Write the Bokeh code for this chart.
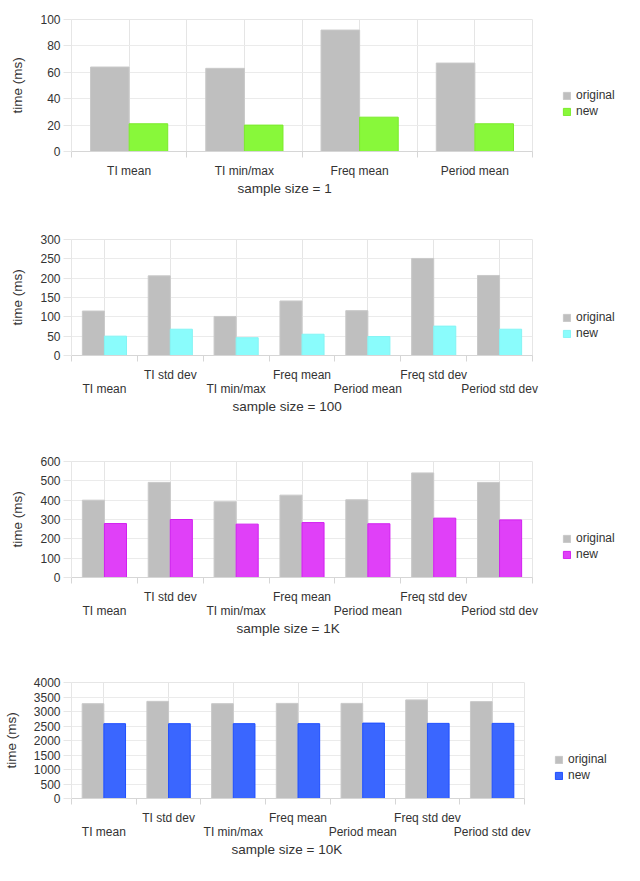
from bokeh.plotting import figure
from bokeh.layouts import column
from bokeh.models import (ColumnDataSource, Range1d, LinearAxis, FixedTicker,
                          SingleIntervalTicker, Legend, LegendItem, Title)
from bokeh.transform import dodge
from bokeh.embed import file_html
from bokeh.resources import INLINE

# ---------------- data ----------------
categories_small = ["TI mean", "TI min/max", "Freq mean", "Period mean"]
categories_full = ["TI mean", "TI std dev", "TI min/max", "Freq mean",
                   "Period mean", "Freq std dev", "Period std dev"]

original_1 = [64, 63, 92, 67]
new_1 = [21, 20, 26, 21]

original_100 = [115, 206, 101, 141, 116, 251, 207]
new_100 = [50, 68, 46, 55, 49, 76, 68]

original_1k = [400, 492, 392, 426, 402, 541, 492]
new_1k = [279, 300, 276, 284, 278, 307, 298]

original_10k = [3270, 3350, 3270, 3280, 3280, 3400, 3340]
new_10k = [2580, 2580, 2580, 2580, 2600, 2590, 2590]

titles = ["sample size = 1", "sample size = 100", "sample size = 1K", "sample size = 10K"]
y_max = [100, 300, 600, 4000]
y_step = [20, 50, 100, 500]
series_names = ["original", "new"]

FONT = "Liberation Sans"
TXT = "#333333"
GREY = "#bfbfbf"
LIGHT = "#e6e6e6"
AXIS = "#d6d6d6"
TOTAL_W = 624


def make_panel(cats, orig, new, title, ymax, ystep, new_fill, new_line,
               left, top, fwidth, fheight, below, legend_vy, two_rows, title_x):
    n = len(cats)
    p = figure(frame_width=fwidth, frame_height=fheight,
               x_range=Range1d(-0.5, n - 0.5), y_range=Range1d(0, ymax),
               x_axis_location=None, output_backend="svg", toolbar_location=None,
               min_border_left=left, min_border_top=top, min_border_bottom=below,
               min_border_right=TOTAL_W - left - fwidth)
    p.outline_line_color = LIGHT
    p.background_fill_color = "white"
    p.border_fill_color = "white"

    src = ColumnDataSource(dict(x=list(range(n)), cat=cats, orig=orig, new=new))
    bw = 0.335
    r1 = p.vbar(x=dodge("x", -bw / 2, range=p.x_range), top="orig", width=bw, source=src,
                fill_color=GREY, line_color="#c9c9c9", line_width=1)
    r2 = p.vbar(x=dodge("x", bw / 2, range=p.x_range), top="new", width=bw, source=src,
                fill_color=new_fill, line_color=new_line, line_width=1)

    # y axis
    ya = p.yaxis[0]
    ya.ticker = SingleIntervalTicker(interval=ystep)
    ya.axis_line_color = LIGHT
    ya.major_tick_out = 8
    ya.major_tick_in = 0
    ya.major_tick_line_color = LIGHT
    ya.minor_tick_line_color = None
    ya.major_label_standoff = 3
    ya.major_label_text_font = FONT
    ya.major_label_text_font_size = "12px"
    ya.major_label_text_color = TXT
    ya.axis_label = "time (ms)"
    ya.axis_label_text_font = FONT
    ya.axis_label_text_font_size = "13.5px"
    ya.axis_label_text_font_style = "normal"
    ya.axis_label_text_color = TXT
    ya.axis_label_standoff = 12
    p.ygrid.grid_line_color = "#ebebeb"

    centers = list(range(n))
    bounds = [i - 0.5 for i in range(n + 1)]

    def lbl_axis(labels, ticks_on, standoff):
        ax = LinearAxis(ticker=FixedTicker(ticks=centers, minor_ticks=bounds if ticks_on else []),
                        major_label_overrides={i: labels[i] for i in range(n)})
        ax.major_tick_line_color = None
        ax.major_tick_out = 0
        ax.major_tick_in = 0
        if ticks_on:
            ax.minor_tick_line_color = AXIS
            ax.minor_tick_out = 6
            ax.minor_tick_in = 0
            ax.axis_line_color = AXIS
        else:
            ax.minor_tick_line_color = None
            ax.axis_line_color = None
        ax.major_label_standoff = standoff
        ax.major_label_text_font = FONT
        ax.major_label_text_font_size = "12px"
        ax.major_label_text_color = TXT
        p.add_layout(ax, "below")

    if two_rows:
        row1 = [c if i % 2 == 1 else "" for i, c in enumerate(cats)]
        row2 = [c if i % 2 == 0 else "" for i, c in enumerate(cats)]
        lbl_axis(row1, True, 6)
        lbl_axis(row2, False, -3)
    else:
        lbl_axis(list(cats), True, 6)

    t = Title(text=title, align="left", offset=title_x, standoff=0,
              vertical_align="top", text_font=FONT, text_font_size="13.5px",
              text_font_style="normal", text_color=TXT)
    p.add_layout(t, "below")

    legend = Legend(items=[LegendItem(label=series_names[0], renderers=[r1]),
                           LegendItem(label=series_names[1], renderers=[r2])],
                    location=(30, legend_vy), orientation="vertical",
                    padding=0, margin=16, spacing=2, glyph_width=9, glyph_height=9,
                    label_standoff=5, label_height=14,
                    label_text_font=FONT, label_text_font_size="12px",
                    label_text_color=TXT, border_line_color=None,
                    background_fill_alpha=0)
    p.add_layout(legend, "right")
    return p


p1 = make_panel(categories_small, original_1, new_1, titles[0], y_max[0], y_step[0],
                "#88f83a", "#7bea2c", 62, 19, 461, 132, 54, 33, False, 166)
p2 = make_panel(categories_full, original_100, new_100, titles[1], y_max[1], y_step[1],
                "#8afcfc", "#84f4f4", 63, 34, 461, 116, 65, 15, True, 161)
p3 = make_panel(categories_full, original_1k, new_1k, titles[2], y_max[2], y_step[2],
                "#e040f8", "#d21ff0", 63, 41, 461, 116, 78, 16, True, 165)
p4 = make_panel(categories_full, original_10k, new_10k, titles[3], y_max[3], y_step[3],
                "#3a66ff", "#1e4eff", 70, 27, 453, 116, 75, 16, True, 160)

layout = column(p1, p2, p3, p4, spacing=0)
open("out.html", "w").write(file_html(layout, INLINE))
